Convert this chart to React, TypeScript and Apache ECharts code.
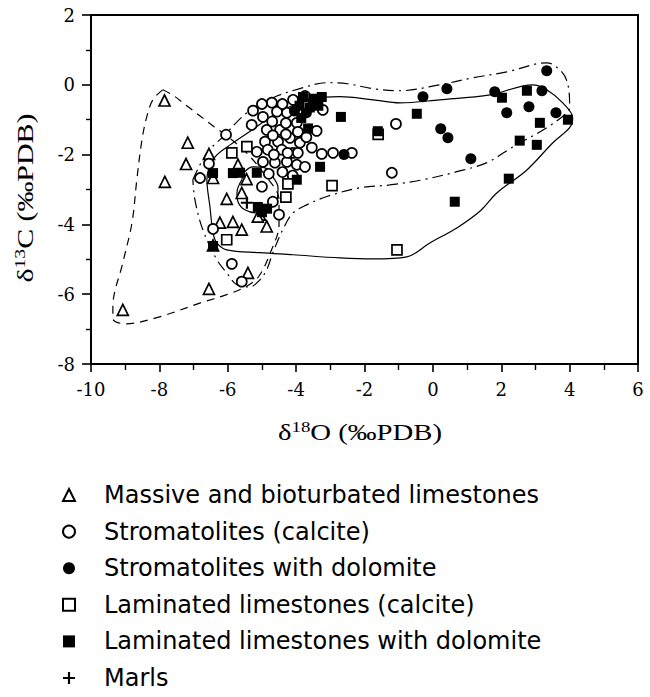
import React, { useEffect, useRef } from "react";
import * as echarts from "echarts";

// ---------- data (δ18O, δ13C) ----------
const massive: number[][] = [
  [-7.85, -0.45], [-7.17, -1.66], [-7.22, -2.27], [-7.84, -2.78], [-6.55, -1.98],
  [-6.43, -2.67], [-5.7, -2.29], [-5.45, -2.7], [-6.03, -3.27], [-6.23, -3.95],
  [-5.85, -3.93], [-5.59, -4.15], [-6.43, -4.6], [-5.41, -5.39], [-6.55, -5.85],
  [-9.07, -6.45], [-5.59, -3.1], [-5.06, -3.72], [-4.86, -4.06], [-5.12, -3.78],
];

const stromCalcite: number[][] = [
  [-6.81, -2.67], [-6.55, -2.26], [-6.05, -1.43], [-5.26, -0.74], [-4.71, -0.51],
  [-4.09, -0.43], [-3.74, -0.32], [-4.97, -0.92], [-4.56, -0.77], [-4.27, -0.8],
  [-3.98, -1.09], [-4.86, -1.29], [-4.47, -1.29], [-4.18, -1.52], [-4.91, -1.63],
  [-4.53, -1.63], [-3.89, -1.66], [-5.15, -1.92], [-4.83, -1.86], [-4.42, -1.86],
  [-4.09, -1.95], [-4.97, -2.21], [-4.62, -2.23], [-4.27, -2.21], [-3.98, -2.29],
  [-3.95, -1.35], [-3.95, -1.95], [-3.74, -2.35], [-3.22, -0.72], [-3.4, -1.32],
  [-3.54, -1.8], [-3.25, -1.98], [-2.92, -1.95], [-2.37, -1.95], [-1.08, -1.12],
  [-1.2, -2.52], [-5.0, -2.92], [-4.68, -3.35], [-4.5, -3.72], [-6.43, -4.13],
  [-5.88, -5.13], [-5.59, -5.64], [-5.0, -0.55], [-4.4, -0.55], [-4.7, -1.05],
  [-4.3, -1.1], [-4.68, -1.45], [-4.3, -1.42], [-4.65, -2.0], [-4.25, -1.95],
  [-4.8, -2.55], [-4.4, -2.5], [-5.3, -1.15], [-4.1, -2.6], [-3.7, -1.5],
];

const stromDolomite: number[][] = [
  [3.33, 0.4], [-0.29, -0.34], [0.41, -0.11], [1.81, -0.2], [3.19, -0.17],
  [2.81, -0.63], [2.16, -0.8], [3.6, -0.8], [0.23, -1.26], [0.44, -1.52],
  [1.11, -2.12], [-2.6, -2.0], [-3.7, -0.8], [-4.05, -0.75], [-3.5, -0.55],
];

const lamCalcite: number[][] = [
  [-5.88, -1.95], [-5.44, -1.77], [-4.24, -2.84], [-4.3, -3.22], [-6.03, -4.44],
  [-2.95, -2.89], [-1.05, -4.73], [-1.6, -1.42],
];

const lamDolomite: number[][] = [
  [-6.43, -2.53], [-5.85, -2.53], [-5.64, -2.52], [-5.15, -2.52], [-3.3, -2.35],
  [-3.98, -2.72], [-5.12, -3.5], [-4.85, -3.55], [-5.0, -3.65], [-6.43, -4.62],
  [-2.69, -0.92], [-1.61, -1.33], [-0.47, -0.83], [2.02, -0.37], [2.75, -0.17],
  [3.95, -1.0], [3.13, -1.09], [2.54, -1.6], [3.04, -1.72], [2.22, -2.69],
  [0.64, -3.35], [-3.8, -0.35], [-3.5, -0.4], [-3.25, -0.35], [-3.6, -0.65],
  [-3.9, -0.6], [-3.35, -0.6], [-3.85, -0.95], [-3.65, -1.25],
];

const marls: number[][] = [[-5.44, -3.38]];

// ---------- envelopes ----------
const envMassive: number[][] = [
  [-7.9, -0.14], [-7.6, -0.3], [-7.2, -0.6], [-6.8, -0.9], [-6.4, -1.2], [-6.05, -1.45],
  [-5.5, -1.9], [-4.9, -2.6], [-4.5, -3.3], [-4.5, -4.0], [-4.75, -4.8], [-5.1, -5.5],
  [-5.5, -5.8], [-6.05, -6.02], [-6.8, -6.25], [-8.0, -6.65], [-9.0, -6.85],
  [-9.36, -6.7], [-9.36, -6.36], [-9.07, -5.1], [-8.8, -3.95], [-8.66, -2.72],
  [-8.51, -1.58], [-8.37, -0.92], [-8.19, -0.43], [-7.9, -0.14],
];

const envStromatolites: number[][] = [
  [-7.02, -2.72], [-6.61, -1.95], [-6.14, -1.49], [-5.44, -0.8], [-4.68, -0.37],
  [-3.89, -0.11], [-3.1, 0.06], [-2.5, 0.03], [-1.75, -0.11], [-0.97, -0.17],
  [0.2, 0.0], [1.17, 0.2], [2.16, 0.37], [3.33, 0.63], [3.77, 0.37], [3.95, 0.0],
  [4.0, -0.63], [3.92, -0.8], [3.33, -1.23], [2.34, -1.78], [1.58, -2.23],
  [0.7, -2.49], [-0.29, -2.72], [-1.26, -2.87], [-2.13, -2.95], [-3.1, -3.2],
  [-3.69, -3.44], [-4.09, -3.67], [-4.39, -4.15], [-4.68, -4.81], [-4.86, -5.3],
  [-5.06, -5.59], [-5.35, -5.79], [-5.73, -5.73], [-6.03, -5.39], [-6.32, -5.01],
  [-6.73, -4.15], [-6.96, -3.3], [-7.02, -2.72],
];

const envLaminated: number[][] = [
  [-3.3, -0.37], [-2.72, -0.34], [-1.75, -0.43], [-0.97, -0.52], [0.2, -0.43],
  [1.67, -0.29], [2.92, 0.0], [3.33, -0.14], [3.8, -0.52], [4.09, -0.95],
  [4.0, -1.23], [3.51, -1.66], [2.75, -2.44], [1.87, -3.1], [1.4, -3.6],
  [0.7, -4.1], [-0.09, -4.53], [-0.76, -4.93], [-1.75, -4.99], [-2.72, -4.96],
  [-4.09, -4.87], [-5.06, -4.81], [-6.03, -4.73], [-6.32, -4.53], [-6.43, -4.24],
  [-6.52, -3.5], [-6.61, -2.72], [-6.4, -2.1], [-5.9, -1.7], [-5.3, -1.3],
  [-4.7, -0.9], [-4.0, -0.55], [-3.3, -0.37],
];

const envMarls: number[][] = [
  [-5.59, -2.72], [-5.73, -3.09], [-5.7, -3.35], [-5.5, -3.58], [-5.15, -3.67],
  [-4.83, -3.58], [-4.56, -3.3], [-4.53, -2.95], [-4.68, -2.64], [-4.91, -2.38],
  [-5.26, -2.35], [-5.5, -2.49], [-5.59, -2.72],
];

const names = [
  "Massive and bioturbated limestones",
  "Stromatolites (calcite)",
  "Stromatolites with dolomite",
  "Laminated limestones (calcite)",
  "Laminated limestones with dolomite",
  "Marls",
];

const PLUS = "path://M0,4.1H10V5.9H0Z M4.1,0H5.9V10H4.1Z";

export default function App() {
  const ref = useRef<HTMLDivElement>(null);
  useEffect(() => {
    document.body.style.margin = "0";
    if (!ref.current) return;
    const chart = echarts.init(ref.current, undefined, { renderer: "svg" });

    const openStyle = { color: "#fff", borderColor: "#000", borderWidth: 1.7, opacity: 1 };
    const fillStyle = { color: "#000", borderColor: "#000", borderWidth: 0, opacity: 1 };

    const envelope = (data: number[][], type: any) => ({
      type: "line",
      data,
      smooth: 0.35,
      symbol: "none",
      showSymbol: false,
      silent: true,
      z: 1,
      lineStyle: { color: "#000", width: 1.2, type },
    });

    const option: any = {
      animation: false,
      backgroundColor: "#fff",
      grid: {
        left: 91, right: 12, top: 15, bottom: 333,
        show: true, borderColor: "#000", borderWidth: 2, backgroundColor: "transparent",
      },
      xAxis: {
        type: "value", min: -10, max: 6, interval: 2,
        axisLine: { show: true, onZero: false, lineStyle: { color: "#000", width: 2 } },
        axisTick: { show: true, inside: false, length: 8, lineStyle: { color: "#000", width: 1.6 } },
        minorTick: { show: true, splitNumber: 2, length: 6, lineStyle: { color: "#000", width: 1.4 } },
        splitLine: { show: false },
        axisLabel: { fontFamily: "DejaVu Serif", fontSize: 18, color: "#000", margin: 16 },
      },
      yAxis: {
        type: "value", min: -8, max: 2, interval: 2,
        axisLine: { show: true, onZero: false, lineStyle: { color: "#000", width: 2 } },
        axisTick: { show: true, inside: false, length: 9, lineStyle: { color: "#000", width: 1.6 } },
        minorTick: { show: true, splitNumber: 2, length: 5, lineStyle: { color: "#000", width: 1.4 } },
        splitLine: { show: false },
        axisLabel: { fontFamily: "DejaVu Serif", fontSize: 18, color: "#000", margin: 16 },
      },
      legend: {
        orient: "vertical",
        left: 57,
        top: 478,
        height: 300,
        itemWidth: 12,
        itemHeight: 12,
        itemGap: 12.6,
        selectedMode: false,
        data: names,
        textStyle: {
          fontFamily: "DejaVu Sans", fontSize: 24, color: "#000", lineHeight: 24,
          padding: [0, 0, 0, 24],
        },
      },
      graphic: [
        {
          type: "text", x: 360, y: 432, scaleX: 1.25,
          style: {
            text: "{a|δ}{s|18}{a|O (‰PDB)}",
            align: "center", verticalAlign: "middle",
            rich: {
              a: { fontFamily: "Liberation Serif", fontSize: 23, fill: "#000" },
              s: { fontFamily: "Liberation Serif", fontSize: 15, fill: "#000", padding: [0, 0, 10, 0] },
            },
          },
        },
        {
          type: "text", x: 25, y: 198, rotation: Math.PI / 2, scaleX: 1.3,
          style: {
            text: "{a|δ}{s|13}{a|C (‰PDB)}",
            align: "center", verticalAlign: "middle",
            rich: {
              a: { fontFamily: "Liberation Serif", fontSize: 23, fill: "#000" },
              s: { fontFamily: "Liberation Serif", fontSize: 15, fill: "#000", padding: [0, 0, 10, 0] },
            },
          },
        },
      ],
      series: [
        envelope(envMassive, [8, 6]),
        envelope(envStromatolites, [11, 5, 2, 5]),
        envelope(envLaminated, "solid"),
        envelope(envMarls, "solid"),
        { name: names[0], type: "scatter", data: massive, symbol: "triangle", symbolSize: 11, itemStyle: openStyle, z: 3 },
        { name: names[1], type: "scatter", data: stromCalcite, symbol: "circle", symbolSize: 10, itemStyle: openStyle, z: 3 },
        { name: names[2], type: "scatter", data: stromDolomite, symbol: "circle", symbolSize: 11, itemStyle: fillStyle, z: 4 },
        { name: names[3], type: "scatter", data: lamCalcite, symbol: "rect", symbolSize: 10, itemStyle: openStyle, z: 3 },
        { name: names[4], type: "scatter", data: lamDolomite, symbol: "rect", symbolSize: 10, itemStyle: fillStyle, z: 4 },
        { name: names[5], type: "scatter", data: marls, symbol: PLUS, symbolSize: 12, itemStyle: fillStyle, z: 4 },
      ],
    };
    chart.setOption(option);
    return () => chart.dispose();
  }, []);
  return <div ref={ref} style={{ width: 650, height: 697 }} />;
}
